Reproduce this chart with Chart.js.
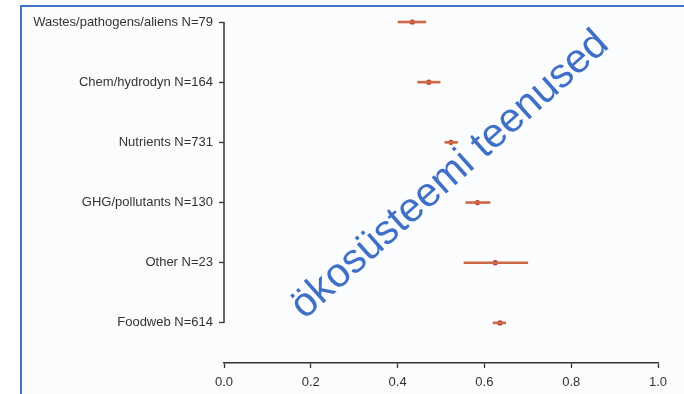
<!DOCTYPE html>
<html>
<head>
<meta charset="utf-8">
<script src="https://cdn.jsdelivr.net/npm/chart.js@4.4.1/dist/chart.umd.min.js"></script>
<style>
  html, body { margin: 0; padding: 0; background: #ffffff; }
  #wrap { position: relative; width: 684px; height: 394px; overflow: hidden; }
  #frame {
    position: absolute; left: 20px; top: 5px; width: 700px; height: 420px;
    border-top: 2px solid #4472c4; border-left: 2px solid #4472c4;
    background: #fbfcfd;
  }
  #chart { position: absolute; left: 0; top: 0; }
</style>
</head>
<body>
<div id="wrap">
  <div id="frame"></div>
  <canvas id="chart" width="684" height="394"></canvas>
</div>
<script>
// categories, top to bottom
const categories = [
    'Wastes/pathogens/aliens N=79',
    'Chem/hydrodyn N=164',
    'Nutrients N=731',
    'GHG/pollutants N=130',
    'Other N=23',
    'Foodweb N=614'
];
// point estimate and interval ends
const means = [0.434, 0.472, 0.523, 0.584, 0.625, 0.636];
const lows  = [0.401, 0.446, 0.509, 0.557, 0.553, 0.620];
const highs = [0.465, 0.498, 0.538, 0.613, 0.700, 0.649];
const xTicks = [0.0, 0.2, 0.4, 0.6, 0.8, 1.0];
const watermark = 'ökosüsteemi teenused';

const axisColor = '#333333';
const fontFamily = '"Liberation Sans", Arial, sans-serif';

// y axis line only between first and last category (R style)
const yAxisLine = {
    id: 'yAxisLine',
    afterDraw(chart) {
        const ctx = chart.ctx;
        const y = chart.scales.y;
        const x0 = chart.chartArea.left;
        ctx.save();
        ctx.strokeStyle = axisColor;
        ctx.lineWidth = 1.5;
        ctx.beginPath();
        ctx.moveTo(x0, y.getPixelForValue(0));
        ctx.lineTo(x0, y.getPixelForValue(categories.length - 1));
        ctx.stroke();
        ctx.restore();
    }
};

// diagonal watermark text over the plot
const watermarkText = {
    id: 'watermarkText',
    afterDraw(chart) {
        const ctx = chart.ctx;
        ctx.save();
        ctx.translate(450, 175);
        ctx.rotate(-41.8 * Math.PI / 180);
        ctx.font = '41px ' + fontFamily;
        ctx.fillStyle = '#3f6fc6';
        ctx.textAlign = 'center';
        ctx.textBaseline = 'middle';
        ctx.fillText(watermark, 0, 0);
        ctx.restore();
    }
};

new Chart(document.getElementById('chart').getContext('2d'), {
    type: 'bar',
    data: {
        datasets: [
            {
                type: 'bar',
                indexAxis: 'y',
                data: categories.map((c, i) => ({ x: [lows[i], highs[i]], y: i })),
                backgroundColor: '#cf6a48',
                borderWidth: 0,
                barThickness: 2,
                grouped: false,
                clip: false
            },
            {
                type: 'scatter',
                indexAxis: 'y',
                data: categories.map((c, i) => ({ x: means[i], y: i })),
                pointRadius: 2.6,
                pointBackgroundColor: '#b13c28',
                pointBorderWidth: 0,
                showLine: false,
                clip: false
            }
        ]
    },
    options: {
        indexAxis: 'y',
        responsive: false,
        animation: false,
        layout: { padding: { top: 22, right: 26, left: 0, bottom: 0 } },
        plugins: { legend: { display: false }, tooltip: { enabled: false } },
        scales: {
            x: {
                type: 'linear',
                min: 0,
                max: 1,
                offset: false,
                afterBuildTicks: scale => { scale.ticks = xTicks.map(v => ({ value: v })); },
                afterFit: scale => { scale.height = 31; },
                ticks: {
                    callback: v => v.toFixed(1),
                    color: axisColor,
                    font: { family: fontFamily, size: 13 },
                    padding: 7,
                    maxRotation: 0
                },
                grid: { drawOnChartArea: false, offset: false, tickLength: 5, color: axisColor, tickWidth: 1.3 },
                border: { display: true, color: axisColor, width: 1.5 }
            },
            y: {
                type: 'linear',
                reverse: true,
                min: 0,
                max: 5 + 40 / 60,
                offset: false,
                afterBuildTicks: scale => { scale.ticks = categories.map((c, i) => ({ value: i })); },
                afterFit: scale => { scale.width = 224; },
                ticks: {
                    callback: v => categories[v],
                    color: axisColor,
                    font: { family: fontFamily, size: 13 },
                    padding: 6
                },
                grid: { drawOnChartArea: false, offset: false, tickLength: 5, color: axisColor, tickWidth: 1.3 },
                border: { display: false }
            }
        }
    },
    plugins: [yAxisLine, watermarkText]
});
</script>
</body>
</html>
